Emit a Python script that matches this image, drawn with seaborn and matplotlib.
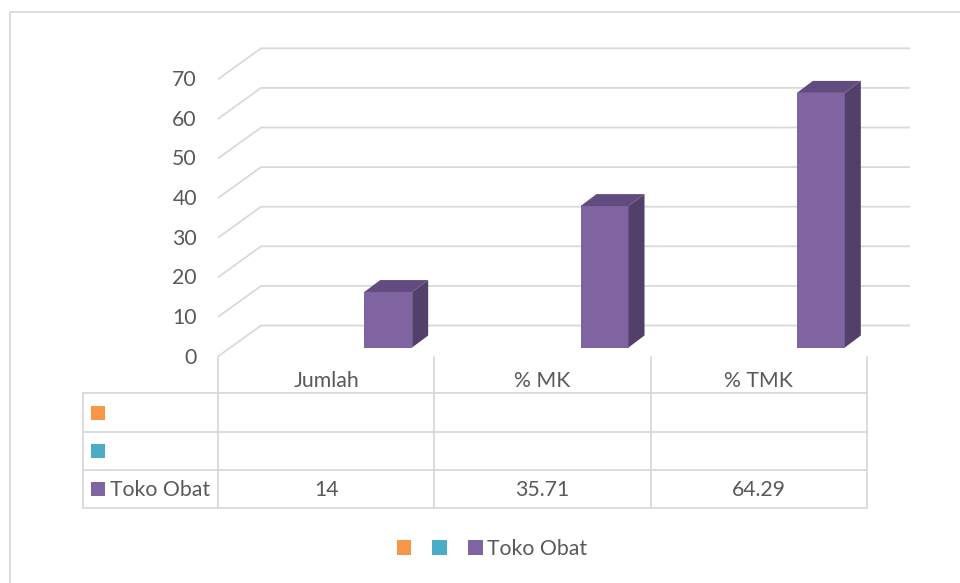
import matplotlib
matplotlib.use("Agg")
import matplotlib.pyplot as plt
import matplotlib.transforms as mtransforms
from matplotlib.patches import Polygon, Rectangle
from matplotlib.lines import Line2D
import pandas as pd
import seaborn as sns

# data
categories = ["Jumlah", "% MK", "% TMK"]
toko_obat = [14, 35.71, 64.29]
value_text = ["14", "35.71", "64.29"]
series_names = ["", "", "Toko Obat"]
series_colors = ["#F79646", "#4BACC6", "#8064A2"]
y_ticks = [0, 10, 20, 30, 40, 50, 60, 70]

df = pd.DataFrame({"category": categories, "value": toko_obat})

W, H = 960, 583
sns.set_theme(style="white")
plt.rcParams["font.family"] = ["Lato", "DejaVu Sans"]
text_color = "#595959"
grid_color = "#D9D9D9"
top_color = "#624C7F"
side_color = "#52406B"
fs = 15.3


def fx(p):
    return p / W


def fy(p):
    return 1 - p / H


fig = plt.figure(figsize=(W / 100, H / 100), dpi=100)

# front plane of the 3-D box (pixels): x 218..867, value 0 at y=356.5, 70 at y=79.3
x0_px, x1_px = 218, 867
y0_px, y70_px = 356.5, 79.3
ax = fig.add_axes([fx(x0_px), fy(y0_px), (x1_px - x0_px) / W, (y0_px - y70_px) / H])
px_x = (x1_px - x0_px) / 3
px_y = (y0_px - y70_px) / 70


def shifted(dx, dy):
    return ax.transData + mtransforms.ScaledTranslation(dx / 100, dy / 100, fig.dpi_scale_trans)


# front faces of the columns
sns.barplot(data=df, x="category", y="value", color=series_colors[2], width=48 / px_x,
            saturation=1, linewidth=0, ax=ax, zorder=3)
bars = list(ax.patches)
bar_tr = shifted(62, 9)
ddx, ddy = 16 / px_x, 12 / px_y
for p in bars:
    p.set_transform(bar_tr)
    p.set_clip_on(False)
    x, w, h = p.get_x(), p.get_width(), p.get_height()
    side = Polygon([(x + w, 0), (x + w, h), (x + w + ddx, h + ddy), (x + w + ddx, ddy)],
                   closed=True, facecolor=side_color, edgecolor="none", transform=bar_tr,
                   zorder=3, clip_on=False)
    top = Polygon([(x, h), (x + w, h), (x + w + ddx, h + ddy), (x + ddx, h + ddy)],
                  closed=True, facecolor=top_color, edgecolor="none", transform=bar_tr,
                  zorder=3, clip_on=False)
    ax.add_patch(side)
    ax.add_patch(top)

# back wall gridlines with the short diagonal on the left wall
wdx, wdy = 43 / px_x, 31 / px_y
for v in y_ticks:
    ax.plot([-0.5, -0.5 + wdx, 2.5 + wdx], [v, v + wdy, v + wdy], color=grid_color,
            lw=1.3, zorder=1, clip_on=False, solid_capstyle="butt")
    ax.text(-0.5, v, str(v), transform=shifted(-21, -7), ha="right", va="baseline",
            fontsize=fs, color=text_color)

# data table under the plot
tb = mtransforms.blended_transform_factory(ax.transData, fig.transFigure)
left_x = -0.5 - (x0_px - 83) / px_x
for yp in [393, 432, 470, 508]:
    ax.plot([left_x, 2.5], [fy(yp), fy(yp)], transform=tb, color=grid_color, lw=1.3,
            clip_on=False)
for xv in [-0.5, 0.5, 1.5, 2.5]:
    ax.plot([xv, xv], [fy(357), fy(508)], transform=tb, color=grid_color, lw=1.3,
            clip_on=False)
ax.plot([left_x, left_x], [fy(393), fy(508)], transform=tb, color=grid_color, lw=1.3,
        clip_on=False)

for i, cat in enumerate(categories):
    ax.text(i, fy(387), cat, transform=tb, ha="center", va="baseline", fontsize=fs,
            color=text_color)
    ax.text(i, fy(496), value_text[i], transform=tb, ha="center", va="baseline",
            fontsize=fs, color=text_color)

row_centers = [412.5, 451, 489]
for name, col, yc in zip(series_names, series_colors, row_centers):
    fig.add_artist(Rectangle((fx(91), fy(yc + 7)), 14 / W, 14 / H, transform=fig.transFigure,
                             facecolor=col, edgecolor="none"))
    if name:
        fig.text(fx(110), fy(yc + 7.5), name, ha="left", va="baseline", fontsize=fs,
                 color=text_color)

# legend
handles = [Rectangle((0, 0), 1, 1, facecolor=c, edgecolor="none") for c in series_colors]
fig.legend(handles, series_names, loc="center", bbox_to_anchor=(fx(492), fy(549)), ncol=3,
           frameon=False, handlelength=0.67, handleheight=0.67, handletextpad=0.22,
           columnspacing=0.8, fontsize=fs, labelcolor=text_color)

# chart area border (only left and top fall inside the picture)
fig.add_artist(Line2D([fx(9.5), fx(9.5), 1], [0, fy(11.5), fy(11.5)], transform=fig.transFigure,
                      color=grid_color, lw=1.3))

ax.set_xlim(-0.5, 2.5)
ax.set_ylim(0, 70)
ax.axis("off")

fig.savefig("out.png", dpi=100)
